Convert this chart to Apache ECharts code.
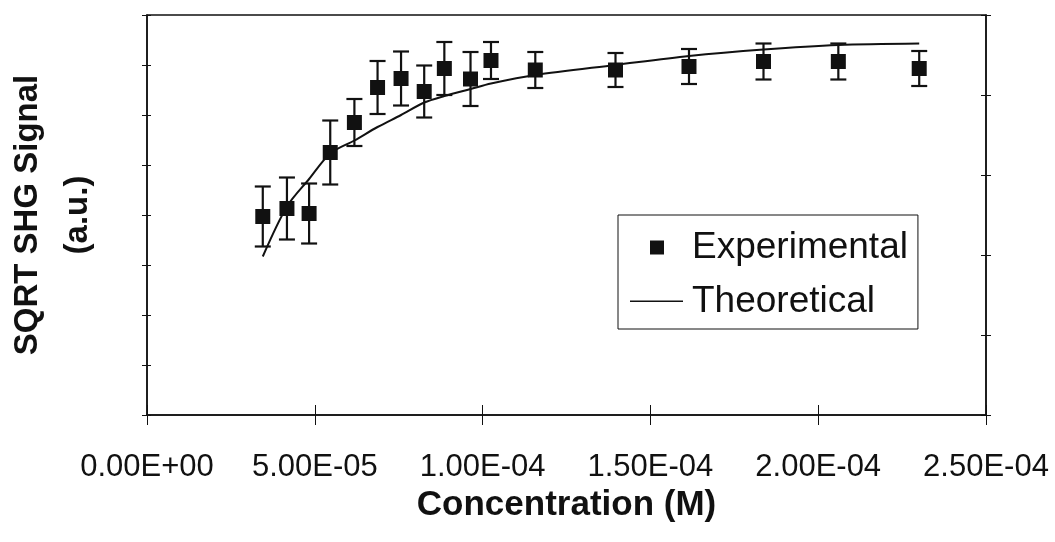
<!DOCTYPE html>
<html>
<head>
    <meta charset="UTF-8">
    <title>SQRT SHG Signal vs Concentration</title>
    <script src="https://cdn.jsdelivr.net/npm/echarts@6/dist/echarts.min.js"></script>
    <style>
        html, body { margin: 0; padding: 0; background: #fff; }
        #main { width: 1055px; height: 542px; }
    </style>
</head>
<body>
<div id="main"></div>
<script type="text/javascript">

    // concentration (M) of each measurement
    var conc = [3.45e-5, 4.17e-5, 4.83e-5, 5.46e-5, 6.18e-5, 6.87e-5, 7.57e-5, 8.26e-5, 8.86e-5,
                9.64e-5, 1.025e-4, 1.157e-4, 1.396e-4, 1.615e-4, 1.837e-4, 2.060e-4, 2.301e-4];
    // measured sqrt SHG signal (a.u.)
    var signal = [3.97, 4.13, 4.03, 5.25, 5.85, 6.55, 6.73, 6.47, 6.93,
                  6.72, 7.09, 6.90, 6.90, 6.97, 7.07, 7.07, 6.93];
    // half length of the error bars
    var errs = [0.60, 0.62, 0.60, 0.64, 0.47, 0.53, 0.54, 0.52, 0.53,
                0.54, 0.37, 0.36, 0.34, 0.35, 0.36, 0.36, 0.35];
    // theoretical curve at the same concentrations
    var theory = [3.17, 4.17, 4.72, 5.23, 5.49, 5.76, 6.00, 6.25, 6.38,
                  6.52, 6.63, 6.80, 7.00, 7.18, 7.31, 7.40, 7.43];

    var FONT = 'Liberation Sans, Arial, sans-serif';
    var INK = '#111';

    function sci(v) {
        var s = Number(v).toExponential(2).split('e');
        var e = parseInt(s[1], 10);
        var ex = (e < 0 ? '-' : '+') + (Math.abs(e) < 10 ? '0' : '') + Math.abs(e);
        return s[0] + 'E' + ex;
    }

    var pts = [], errData = [], theoPts = [];
    for (var i = 0; i < conc.length; i++) {
        pts.push([conc[i], signal[i]]);
        errData.push([conc[i], signal[i] - errs[i], signal[i] + errs[i]]);
        theoPts.push([conc[i], theory[i]]);
    }

    var myChart = echarts.init(document.getElementById('main'));

    var lineStyle = { color: INK, width: 1.5 };
    var tickStyle = { color: INK, width: 1 };

    option = {
        backgroundColor: '#fff',
        animation: false,
        grid: {
            left: 147, right: 69, top: 15, bottom: 127,
            outerBoundsMode: 'none',
            show: true, borderColor: INK, borderWidth: 1.5
        },
        legend: {
            orient: 'vertical',
            left: 618, top: 215,
            padding: [14, 10, 9, 12],
            itemGap: 17,
            itemWidth: 53, itemHeight: 14,
            borderColor: INK, borderWidth: 1,
            backgroundColor: '#fff',
            textStyle: { fontFamily: FONT, fontSize: 37, color: INK, padding: [0, 0, 0, 4] },
            data: [
                // square in the middle of a wide icon box
                { name: 'Experimental', icon: 'path://M0,0M53,14M20,0h14v14h-14z' },
                { name: 'Theoretical', icon: 'path://M0,0M53,14M0,6h53v1.5h-53z' }
            ]
        },
        xAxis: [
            {
                type: 'value', min: 0, max: 2.5e-4, interval: 5e-5,
                name: 'Concentration (M)', nameLocation: 'middle', nameGap: 68,
                nameTextStyle: { fontFamily: FONT, fontSize: 35, fontWeight: 'bold', color: INK },
                axisLine: { lineStyle: lineStyle },
                axisTick: { show: true, length: 10, lineStyle: tickStyle },
                axisLabel: { fontFamily: FONT, fontSize: 31, color: INK, margin: 37, formatter: sci },
                splitLine: { show: false }
            },
            {
                type: 'value', min: 0, max: 2.5e-4, interval: 5e-5, position: 'bottom',
                axisLine: { show: false },
                axisTick: { show: true, inside: true, length: 10, lineStyle: tickStyle },
                axisLabel: { show: false },
                splitLine: { show: false }
            }
        ],
        yAxis: [
            {
                type: 'value', min: 0, max: 8, interval: 1, position: 'left',
                name: 'SQRT SHG Signal\n(a.u.)', nameLocation: 'middle', nameRotate: 90, nameGap: 44,
                nameTextStyle: { fontFamily: FONT, fontSize: 33, fontWeight: 'bold', color: INK, lineHeight: 50, align: 'center' },
                axisLine: { show: true, lineStyle: lineStyle },
                axisTick: { show: true, length: 5, lineStyle: tickStyle },
                axisLabel: { show: false },
                splitLine: { show: false }
            },
            {
                type: 'value', min: 0, max: 8, interval: 1, position: 'left',
                axisLine: { show: false },
                axisTick: { show: true, inside: true, length: 4, lineStyle: tickStyle },
                axisLabel: { show: false },
                splitLine: { show: false }
            },
            {
                type: 'value', min: 0, max: 5, interval: 1, position: 'right',
                axisLine: { show: true, lineStyle: lineStyle },
                axisTick: { show: true, length: 5, lineStyle: tickStyle },
                axisLabel: { show: false },
                splitLine: { show: false }
            },
            {
                type: 'value', min: 0, max: 5, interval: 1, position: 'right',
                axisLine: { show: false },
                axisTick: { show: true, inside: true, length: 5, lineStyle: tickStyle },
                axisLabel: { show: false },
                splitLine: { show: false }
            }
        ],
        series: [
            {
                name: 'Error',
                type: 'custom',
                xAxisIndex: 0, yAxisIndex: 0,
                data: errData,
                z: 3,
                renderItem: function (params, api) {
                    var lo = api.coord([api.value(0), api.value(1)]);
                    var hi = api.coord([api.value(0), api.value(2)]);
                    var hw = 8;
                    var st = { stroke: INK, lineWidth: 2.2 };
                    return {
                        type: 'group',
                        children: [
                            { type: 'line', shape: { x1: lo[0], y1: lo[1], x2: hi[0], y2: hi[1] }, style: st },
                            { type: 'line', shape: { x1: lo[0] - hw, y1: lo[1], x2: lo[0] + hw, y2: lo[1] }, style: st },
                            { type: 'line', shape: { x1: hi[0] - hw, y1: hi[1], x2: hi[0] + hw, y2: hi[1] }, style: st }
                        ]
                    };
                }
            },
            {
                name: 'Theoretical',
                type: 'line',
                xAxisIndex: 0, yAxisIndex: 0,
                data: theoPts,
                showSymbol: false,
                symbol: 'none',
                smooth: 0.3,
                z: 4,
                lineStyle: { color: INK, width: 2 },
                itemStyle: { color: INK }
            },
            {
                name: 'Experimental',
                type: 'scatter',
                xAxisIndex: 0, yAxisIndex: 0,
                data: pts,
                symbol: 'rect',
                symbolSize: 15,
                z: 5,
                itemStyle: { color: INK, opacity: 1 }
            }
        ]
    };

    myChart.setOption(option);
</script>
</body>
</html>
